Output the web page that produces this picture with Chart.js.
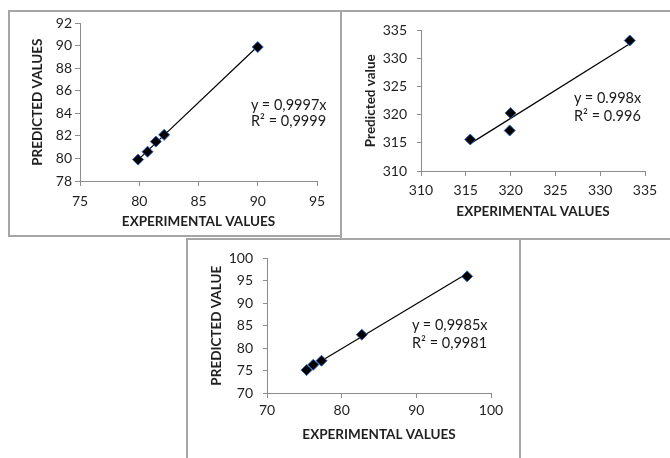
<!DOCTYPE html>
<html><head><meta charset="utf-8">
<script src="https://cdn.jsdelivr.net/npm/chart.js@4"></script>
<style>
html,body{margin:0;padding:0;background:#fff}
body{width:670px;height:458px;overflow:hidden;position:relative;font-family:Lato,sans-serif}
.frame{position:absolute;border-color:#a6a6a6;border-style:solid;border-width:0;box-sizing:border-box}
canvas{position:absolute}
.eq{position:absolute;font-family:Lato,sans-serif;font-size:14.5px;color:#1a1a1a;white-space:nowrap}
</style></head><body>
<div class="frame" style="left:8px;top:10px;width:334px;height:227px;border-width:2px 0 2px 2px"></div>
<div class="frame" style="left:340px;top:10px;width:332px;height:230px;border-width:2px 0 2px 2px"></div>
<div class="frame" style="left:186px;top:238px;width:335px;height:230px;border-width:2px 2px 0 2px"></div>
<canvas id="c1"></canvas>
<canvas id="c2"></canvas>
<canvas id="c3"></canvas>
<div class="eq" style="left:251px;top:97px;line-height:16px">y = 0,9997x<br>R² = 0,9999</div>
<div class="eq" style="left:574px;top:89px;line-height:18px">y = 0.998x<br>R² = 0.996</div>
<div class="eq" style="left:412px;top:316px;line-height:18px">y = 0,9985x<br>R² = 0,9981</div>
<script>
// Panel 1
const exp1 = [79.9, 80.7, 81.4, 82.1, 90.0];
const pred1 = [79.9, 80.6, 81.5, 82.1, 89.9];
const slope1 = 0.9997;
const xTicks1 = [75, 80, 85, 90, 95];
const yTicks1 = [78, 80, 82, 84, 86, 88, 90, 92];
// Panel 2
const exp2 = [315.5, 319.9, 320.0, 333.3];
const pred2 = [315.6, 317.2, 320.3, 333.2];
const slope2 = 0.998;
const xTicks2 = [310, 315, 320, 325, 330, 335];
const yTicks2 = [310, 315, 320, 325, 330, 335];
// Panel 3
const exp3 = [75.3, 76.2, 77.3, 82.7, 96.8];
const pred3 = [75.1, 76.3, 77.2, 83.0, 96.0];
const slope3 = 0.9985;
const xTicks3 = [70, 80, 90, 100];
const yTicks3 = [70, 75, 80, 85, 90, 95, 100];

const AXIS = '#8c8c8c';
const TXT = '#1f1f1f';
const tickFont = {family: 'Lato', size: 14};
const titleSize = 13.5;
const titleFont = {family: 'Lato', size: titleSize, weight: 'bold'};

function makeChart(cfg) {
  const {id, box, area, xt, yt, xs, ys, slope, xTitle, yTitle, yTitleX, xTitleY, xPad, yPad, yTick} = cfg;
  const cv = document.getElementById(id);
  const W = box.r - box.l, H = box.b - box.t;
  cv.width = W; cv.height = H;
  cv.style.left = box.l + 'px'; cv.style.top = box.t + 'px';
  cv.style.width = W + 'px'; cv.style.height = H + 'px';
  const pts = xs.map((x, i) => ({x: x, y: ys[i]}));
  const x0 = Math.min(...xs), x1 = Math.max(...xs);
  const trend = [{x: x0, y: slope * x0}, {x: x1, y: slope * x1}];
  const lh = titleSize * 1.2;
  new Chart(cv, {
    type: 'scatter',
    data: {datasets: [
      {data: trend, showLine: true, borderColor: '#000', borderWidth: 1.2, pointRadius: 0, order: 2},
      {data: pts, pointStyle: 'rectRot', pointRadius: 5.5, backgroundColor: '#000', borderColor: '#2f62b8', borderWidth: 1, order: 1}
    ]},
    options: {
      responsive: false, animation: false, devicePixelRatio: 1,
      plugins: {legend: {display: false}, tooltip: {enabled: false}},
      layout: {padding: {left: 0, top: area.t - box.t, right: box.r - area.r, bottom: 0}},
      scales: {
        x: {
          type: 'linear', min: xt[0], max: xt[xt.length - 1],
          afterBuildTicks(s) { s.ticks = xt.map(v => ({value: v})); },
          afterFit(s) { s.height = box.b - area.b; },
          ticks: {font: tickFont, color: TXT, padding: xPad, maxRotation: 0, autoSkip: false},
          grid: {drawOnChartArea: false, drawTicks: true, tickLength: 5, color: AXIS},
          border: {color: AXIS, width: 1},
          title: {display: true, text: xTitle, font: titleFont, color: TXT,
                  padding: {top: 0, bottom: (box.b - xTitleY) - lh / 2}}
        },
        y: {
          type: 'linear', min: yt[0], max: yt[yt.length - 1],
          afterBuildTicks(s) { s.ticks = yt.map(v => ({value: v})); },
          afterFit(s) { s.width = area.l - box.l; },
          ticks: {font: tickFont, color: TXT, padding: yPad, autoSkip: false},
          grid: {drawOnChartArea: false, drawTicks: true, tickLength: yTick, color: AXIS},
          border: {color: AXIS, width: 1},
          title: {display: true, text: yTitle, font: titleFont, color: TXT,
                  padding: {top: (yTitleX - box.l) - lh / 2, bottom: 0}}
        }
      }
    }
  });
}

makeChart({id: 'c1', box: {l: 10, t: 12, r: 340, b: 235}, area: {l: 80, t: 19, r: 317, b: 181},
  xt: xTicks1, yt: yTicks1, xs: exp1, ys: pred1, slope: slope1,
  xTitle: 'EXPERIMENTAL VALUES', yTitle: 'PREDICTED VALUES', yTitleX: 38, xTitleY: 222, xPad: 7.5, yPad: 3, yTick: 5});
makeChart({id: 'c2', box: {l: 342, t: 12, r: 670, b: 238}, area: {l: 421, t: 27, r: 645, b: 171},
  xt: xTicks2, yt: yTicks2, xs: exp2, ys: pred2, slope: slope2,
  xTitle: 'EXPERIMENTAL VALUES', yTitle: 'Predicted value', yTitleX: 371, xTitleY: 212, xPad: 6, yPad: 10, yTick: 4});
makeChart({id: 'c3', box: {l: 188, t: 240, r: 519, b: 458}, area: {l: 267, t: 257, r: 491, b: 393},
  xt: xTicks3, yt: yTicks3, xs: exp3, ys: pred3, slope: slope3,
  xTitle: 'EXPERIMENTAL VALUES', yTitle: 'PREDICTED VALUE', yTitleX: 217, xTitleY: 435, xPad: 4, yPad: 10, yTick: 4});
</script>
</body></html>
